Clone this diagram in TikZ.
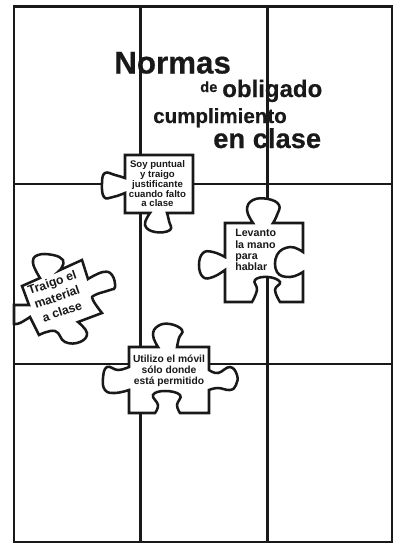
\documentclass[tikz,border=0pt]{standalone}
\usepackage{fontspec}
\setmainfont{Liberation Sans}
\newfontfamily\titlefont{Liberation Sans}[BoldFeatures={FakeBold=0.5}]
\tikzset{
    gridline/.style={line width=1.6pt, draw=black!90},
    piece/.style={line width=1.9pt, fill=white, draw=black!90},
    tab/.style={smooth, tension=0.75},
    title/.style={inner sep=0pt, text=black!90, anchor=base west},
    note/.style={font=\bfseries\fontsize{7.6}{8.2}\selectfont, align=center, inner sep=0pt, text=black!90}
}
\begin{document}
\begin{tikzpicture}[x=0.75pt, y=-0.75pt]
    \useasboundingbox (0,0) rectangle (408,554);
    % grid
    \coordinate (tl) at (14,6.5);
    \coordinate (br) at (392,542);
    \draw[gridline] (tl) rectangle (br);
    \coordinate (v1a) at (140.5,6.5);
    \coordinate (v1b) at (140.5,542);
    \coordinate (v2a) at (267.5,6.5);
    \coordinate (v2b) at (267.5,542);
    \coordinate (h1a) at (14,184);
    \coordinate (h1b) at (392,184);
    \coordinate (h2a) at (14,364);
    \coordinate (h2b) at (392,364);
    \draw[gridline] (v1a) -- (v1b);
    \draw[gridline] (v2a) -- (v2b);
    \draw[gridline] (h1a) -- (h1b);
    \draw[gridline] (h2a) -- (h2b);
    % title
    \node[title, font=\titlefont\bfseries\fontsize{23.5}{26}\selectfont] (tnormas) at (114,73.5) {Normas};
    \node[title, font=\titlefont\bfseries\fontsize{11}{12}\selectfont] (tde) at (200,92) {de};
    \node[title, font=\titlefont\bfseries\fontsize{18}{20}\selectfont] (tobligado) at (222,97) {obligado};
    \node[title, font=\titlefont\bfseries\fontsize{15.4}{16}\selectfont] (tcumpl) at (153,123) {cumplimiento};
    \node[title, font=\titlefont\bfseries\fontsize{20.5}{22}\selectfont] (tclase) at (213,148) {en clase};
    % pieces
    \draw[piece] (125,155) -- (193,155) -- (193,213) -- (167,213)
        -- plot[tab] coordinates {(167,213) (169,221) (170,230) (155,232) (145,225) (150,213)}
        -- (125,213) -- (125,193)
        -- plot[tab] coordinates {(125,193) (113,197) (104,197) (102,183) (105,173) (115,175) (125,178)}
        -- cycle;
    \node[note, font=\bfseries\fontsize{7.2}{7.3}\selectfont] (soy) at (157.5,184) {Soy puntual\\y traigo\\justificante\\cuando falto\\a clase};
    \draw[piece] (225,223) -- (253,223)
        -- plot[tab] coordinates {(253,223) (247,210) (253,200) (268,199) (279,205) (277,215) (273,223)}
        -- (303,223) -- (303,252)
        -- plot[tab] coordinates {(303,252) (290,247) (277,255) (277,272) (290,277) (303,272)}
        -- (303,302) -- (280,302)
        -- plot[tab] coordinates {(280,302) (275,290) (280,282) (268,277) (255,280) (257,290) (252,302)}
        -- (225,302) -- (225,270)
        -- plot[tab] coordinates {(225,270) (213,277) (203,277) (199,265) (203,253) (213,252) (225,257)}
        -- cycle;
    \node[note, align=left, font=\bfseries\fontsize{8}{8.4}\selectfont, anchor=west] (levanto) at (235,250) {Levanto\\la mano\\para\\hablar};
    \draw[piece] (22,286) -- (40,278)
        -- plot[tab] coordinates {(40,278) (33,263) (38,255) (53,255) (63,260) (62,267) (60,270)}
        -- (82,260) -- (88,279)
        -- plot[tab] coordinates {(88,279) (103,272) (112,275) (115,287) (110,290) (95,295) (93,300) (102,313)}
        -- (78,322)
        -- plot[tab] coordinates {(78,322) (87,333) (80,342) (65,342) (55,331) (39,335)}
        -- (30,317)
        -- plot[tab] coordinates {(30,317) (20,323) (14,324)}
        -- (14,305) -- (29,305) -- cycle;
    \node[note, font=\bfseries\fontsize{9.2}{11.4}\selectfont, rotate=19] (traigo) at (57,297) {Traigo el\\material\\a clase};
    \draw[piece] (129,347) -- (158,347)
        -- plot[tab] coordinates {(158,347) (153,335) (158,326) (170,324) (182,330) (179,338) (177,347)}
        -- (209,347) -- (209,370)
        -- plot[tab] coordinates {(209,370) (218,373) (230,367) (237,375) (236,385) (230,390) (218,388) (209,390)}
        -- (209,413) -- (180,413)
        -- plot[tab] coordinates {(180,413) (177,405) (180,395) (165,391) (153,395) (158,405) (155,413)}
        -- (129,413) -- (129,390)
        -- plot[tab] coordinates {(129,390) (115,393) (105,390) (103,378) (107,367) (118,370) (129,367)}
        -- cycle;
    \node[note, font=\bfseries\fontsize{7.7}{8.2}\selectfont] (movil) at (169,371) {Utilizo el móvil\\sólo donde\\está permitido};
\end{tikzpicture}
\end{document}
